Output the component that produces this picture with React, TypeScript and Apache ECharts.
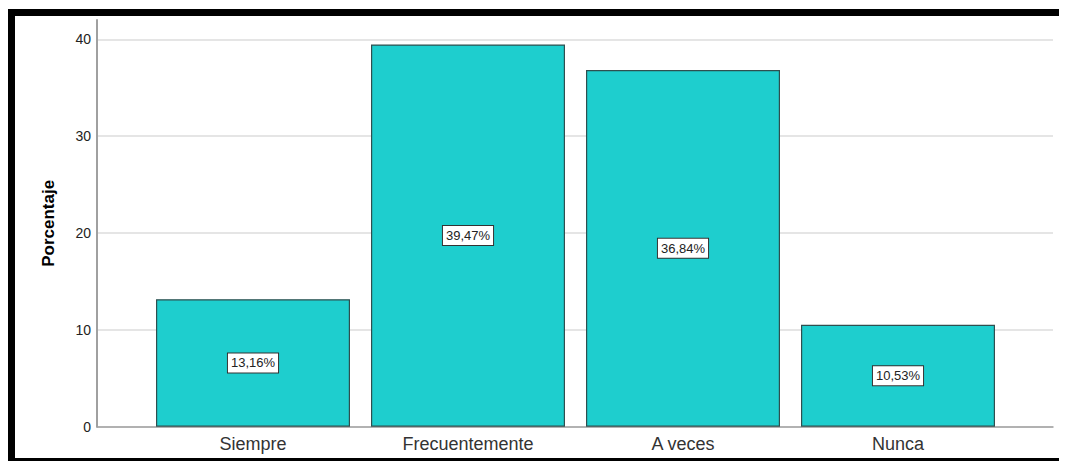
import React, { useEffect, useRef } from "react";
import * as echarts from "echarts";

const categories = ["Siempre", "Frecuentemente", "A veces", "Nunca"];
const percentages = [13.16, 39.47, 36.84, 10.53];
const yTicks = [0, 10, 20, 30, 40];
const yAxisName = "Porcentaje";

export default function App() {
  const ref = useRef<HTMLDivElement>(null);
  useEffect(() => {
    if (!ref.current) return;
    const chart = echarts.init(ref.current, undefined, { renderer: "svg" });
    const font = "Arial, 'Liberation Sans', sans-serif";
    chart.setOption({
      animation: false,
      backgroundColor: "#ffffff",
      textStyle: { fontFamily: font },
      grid: [
        { left: 89, right: 14, top: 12, bottom: 34.3 },
        { left: 137.5, width: 860, top: 12, bottom: 34.3 },
      ],
      xAxis: [
        {
          type: "value",
          gridIndex: 0,
          min: 0,
          max: 1,
          axisLine: { show: true, lineStyle: { color: "#a0a0a0", width: 1.5 } },
          axisTick: { show: false },
          axisLabel: { show: false },
          splitLine: { show: false },
        },
        {
          type: "category",
          gridIndex: 1,
          data: categories,
          axisLine: { show: false },
          axisTick: { show: false },
          axisLabel: { fontSize: 18, color: "#333", margin: 8, fontFamily: font },
        },
      ],
      yAxis: [
        {
          type: "value",
          gridIndex: 0,
          min: 0,
          max: 42,
          interval: 10,
          name: yAxisName,
          nameLocation: "middle",
          nameGap: 40,
          nameTextStyle: { fontSize: 17, fontWeight: "bold", color: "#000", fontFamily: font },
          axisLine: { show: true, lineStyle: { color: "#a0a0a0", width: 2 } },
          axisTick: { show: false },
          axisLabel: {
            fontSize: 14,
            color: "#222",
            margin: 6,
            showMaxLabel: false,
            formatter: (v: number) => (yTicks.includes(v) ? String(v) : ""),
          },
          splitLine: { show: true, showMaxLine: false, lineStyle: { color: "#dcdcdc", width: 1.5 } },
        },
        {
          type: "value",
          gridIndex: 1,
          min: 0,
          max: 42,
          show: false,
          splitLine: { show: false },
        },
      ],
      series: [
        { type: "scatter", xAxisIndex: 0, yAxisIndex: 0, data: [] },
        {
          type: "bar",
          xAxisIndex: 1,
          yAxisIndex: 1,
          data: percentages,
          barWidth: 194,
          itemStyle: { color: "#1ecece", borderColor: "#2f4f4f", borderWidth: 1.2 },
          label: {
            show: true,
            position: "inside",
            formatter: (p: any) => p.value.toFixed(2).replace(".", ",") + "%",
            backgroundColor: "#ffffff",
            borderColor: "#333",
            borderWidth: 1,
            padding: [3, 3],
            fontSize: 13,
            color: "#222",
            fontFamily: font,
          },
        },
      ],
      graphic: [
        { type: "rect", shape: { x: 0, y: 1, width: 7, height: 460 }, style: { fill: "#000" }, silent: true },
        { type: "rect", shape: { x: 0, y: 1, width: 1059, height: 7 }, style: { fill: "#000" }, silent: true },
        { type: "rect", shape: { x: 0, y: 450, width: 1059, height: 5 }, style: { fill: "#000" }, silent: true },
        { type: "line", shape: { x1: 1058, y1: 1, x2: 1058, y2: 453 }, style: { stroke: "#888", lineWidth: 1 }, silent: true },
      ],
    });
    return () => chart.dispose();
  }, []);
  return <div ref={ref} style={{ width: 1059, height: 453 }} />;
}
